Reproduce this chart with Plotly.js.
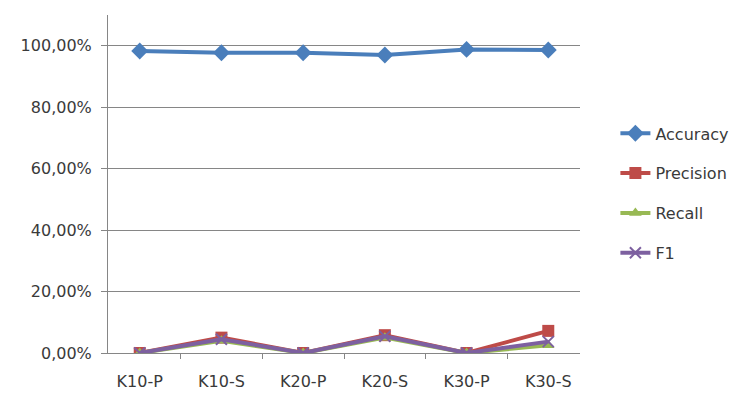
<!DOCTYPE html>
<html><head><meta charset="utf-8">
<script src="https://cdn.plot.ly/plotly-3.0.1.min.js"></script>
<style>html,body{margin:0;padding:0;background:#fff;}#chart{width:746px;height:396px;}</style>
</head><body><div id="chart"></div>
<script>
const categories = ["K10-P","K10-S","K20-P","K20-S","K30-P","K30-S"];
const accuracy  = [0.983, 0.977, 0.977, 0.970, 0.988, 0.986];
const precision = [0.0, 0.050, 0.0, 0.058, 0.0, 0.072];
const recall    = [0.0, 0.040, 0.0, 0.050, 0.0, 0.025];
const f1        = [0.0, 0.045, 0.0, 0.054, 0.0, 0.037];
const seriesNames = ["Accuracy","Precision","Recall","F1"];

const fontFam = "'DejaVu Sans', sans-serif";
function tr(name, y, color, symbol, msize){
  return {x: categories, y: y, name: name, type: 'scatter', mode: 'lines+markers',
    line: {color: color, width: 4},
    marker: {color: color, symbol: symbol, size: msize, line: {color: color, width: symbol==='x-thin' ? 2 : 0}},
    legendgroup: name};
}
const data = [
  tr(seriesNames[0], accuracy, '#4A7EBB', 'diamond', 13),
  tr(seriesNames[1], precision, '#BE4B48', 'square', 12),
  tr(seriesNames[2], recall, '#98B954', 'triangle-up', 11),
  tr(seriesNames[3], f1, '#7D60A0', 'x-thin', 11)
];
const layout = {
  width: 746, height: 396,
  margin: {l: 108, r: 166, t: 15, b: 43, autoexpand: false},
  paper_bgcolor: '#fff', plot_bgcolor: '#fff',
  font: {family: fontFam, size: 16, color: '#3a3a3a'},
  separators: ', ',
  showlegend: true,
  legend: {x: 1.075, xanchor: 'left', y: 0.70, yanchor: 'top', traceorder: 'grouped', tracegroupgap: 16,
    font: {family: fontFam, size: 16, color: '#3a3a3a'}, itemwidth: 30},
  xaxis: {type: 'category', showline: true, linecolor: '#868686', linewidth: 1,
    ticks: 'outside', tickson: 'boundaries', ticklen: 5, tickcolor: '#868686',
    ticklabelstandoff: 14,
    showgrid: false, zeroline: false, tickfont: {size: 16}},
  yaxis: {range: [0, 1.1], dtick: 0.2, tick0: 0, tickformat: '.2%',
    showline: true, linecolor: '#868686', linewidth: 1,
    ticks: 'outside', ticklen: 6, tickcolor: '#868686', ticklabelstandoff: 6,
    showgrid: true, gridcolor: '#868686', gridwidth: 1, zeroline: false, tickfont: {size: 16}}
};
Plotly.newPlot('chart', data, layout, {displayModeBar: false, staticPlot: true});
</script></body></html>
